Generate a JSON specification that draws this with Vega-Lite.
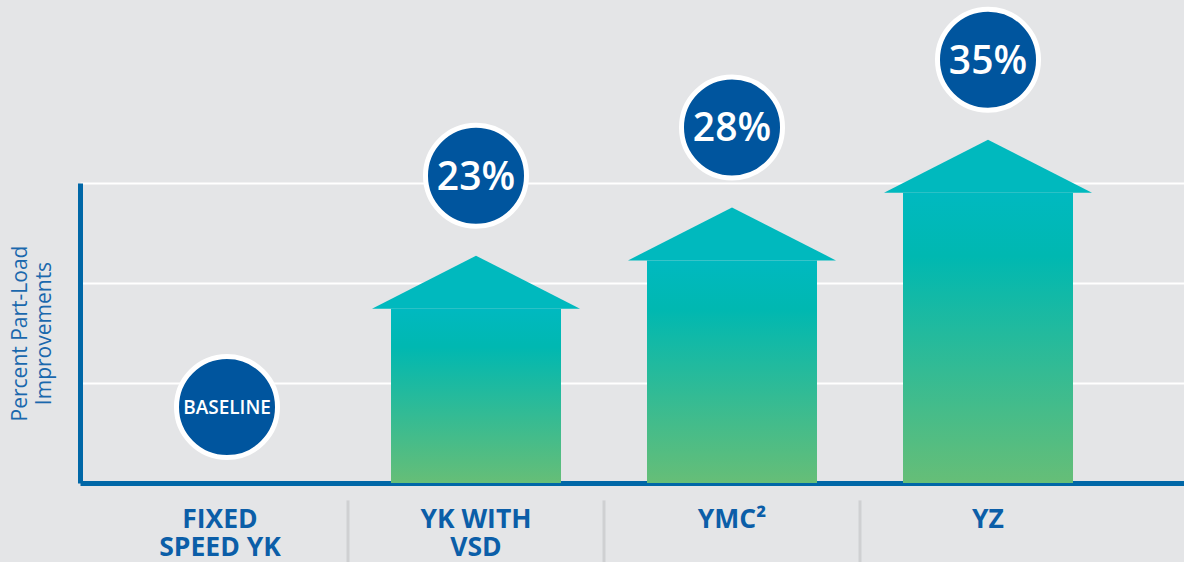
{
  "$schema": "https://vega.github.io/schema/vega-lite/v6.json",
  "width": 1104,
  "height": 300,
  "autosize": {"type": "none"},
  "padding": {"left": 80, "top": 183, "right": 0, "bottom": 79},
  "background": "#e4e5e7",
  "config": {
    "view": {"stroke": null},
    "font": "Open Sans"
  },
  "data": {
    "values": [
      {"cat": "FIXED SPEED YK", "value": 0, "label": "BASELINE"},
      {"cat": "YK WITH VSD", "value": 23, "label": "23%"},
      {"cat": "YMC²", "value": 28, "label": "28%"},
      {"cat": "YZ", "value": 35, "label": "35%"}
    ]
  },
  "encoding": {
    "x": {
      "field": "cat",
      "type": "nominal",
      "sort": ["FIXED SPEED YK", "YK WITH VSD", "YMC²", "YZ"],
      "scale": {"domain": ["FIXED SPEED YK", "YK WITH VSD", "YMC²", "YZ"], "paddingInner": 0, "paddingOuter": 0.15625, "align": 0.15},
      "axis": {
        "title": null,
        "labelAngle": 0,
        "ticks": false,
        "grid": false,
        "domainColor": "#0067a7",
        "domainWidth": 5,
        "labelFont": "Open Sans",
        "labelFontSize": 26.5,
        "labelFontWeight": "bold",
        "labelColor": "#0b5ea8",
        "labelPadding": 23,
        "labelBaseline": "top",
        "labelLineHeight": 28,
        "labelExpr": "datum.value == 'FIXED SPEED YK' ? ['FIXED', 'SPEED YK'] : datum.value == 'YK WITH VSD' ? ['YK WITH', 'VSD'] : datum.value"
      }
    },
    "y": {
      "field": "value",
      "type": "quantitative",
      "title": ["Percent Part-Load", "Improvements"],
      "scale": {"domain": [5, 36], "nice": false, "zero": false},
      "axis": {
        "values": [15.3333, 25.6667, 36],
        "labels": false,
        "ticks": false,
        "grid": true,
        "gridColor": "#ffffff",
        "gridWidth": 2,
        "gridOpacity": 1,
        "domainColor": "#0067a7",
        "domainWidth": 5,
        "titleFont": "Open Sans",
        "titleFontSize": 21,
        "titleFontWeight": "normal",
        "titleColor": "#1a68ad",
        "titlePadding": 26,
        "titleLineHeight": 24
      }
    }
  },
  "layer": [
    {
      "transform": [{"filter": "datum.value > 0"}],
      "mark": {
        "type": "bar",
        "width": 170,
        "color": {
          "gradient": "linear",
          "x1": 0, "y1": 0, "x2": 0, "y2": 1,
          "stops": [
            {"offset": 0, "color": "#00b9c0"},
            {"offset": 0.22, "color": "#00b8b1"},
            {"offset": 1, "color": "#66be77"}
          ]
        }
      },
      "encoding": {
        "y2": {"datum": 5}
      }
    },
    {
      "transform": [{"filter": "datum.value > 0"}],
      "mark": {
        "type": "point",
        "shape": "M-1,0L0,-0.51L1,0Z",
        "size": 43264,
        "filled": true,
        "fill": "#00b9be",
        "opacity": 1,
        "strokeWidth": 0
      }
    },
    {
      "transform": [{"filter": "datum.value > 0"}],
      "mark": {
        "type": "point",
        "shape": "circle",
        "size": 10207,
        "filled": true,
        "fill": "#00559e",
        "stroke": "#ffffff",
        "strokeWidth": 5,
        "opacity": 1,
        "yOffset": -133
      }
    },
    {
      "transform": [{"filter": "datum.value > 0"}],
      "mark": {
        "type": "text",
        "font": "Open Sans",
        "fontSize": 39,
        "fontWeight": 600,
        "color": "#ffffff",
        "align": "center",
        "baseline": "middle",
        "yOffset": -131
      },
      "encoding": {"text": {"field": "label"}}
    },
    {
      "transform": [{"filter": "datum.value == 0"}],
      "mark": {
        "type": "point",
        "shape": "circle",
        "size": 10207,
        "filled": true,
        "fill": "#00559e",
        "stroke": "#ffffff",
        "strokeWidth": 5,
        "opacity": 1,
        "xOffset": 7
      },
      "encoding": {"y": {"datum": 12.85}}
    },
    {
      "transform": [{"filter": "datum.value == 0"}],
      "mark": {
        "type": "text",
        "font": "Open Sans",
        "fontSize": 19,
        "fontWeight": 600,
        "color": "#ffffff",
        "align": "center",
        "baseline": "middle",
        "xOffset": 7,
        "yOffset": 1
      },
      "encoding": {"y": {"datum": 12.85}, "text": {"field": "label"}}
    },
    {
      "transform": [{"filter": "datum.value > 0"}],
      "mark": {"type": "rule", "color": "#cfd0d2", "strokeWidth": 3},
      "encoding": {
        "x": {"field": "cat", "type": "nominal", "bandPosition": 0},
        "y": {"datum": 3.2},
        "y2": {"datum": -3.2}
      }
    }
  ]
}
